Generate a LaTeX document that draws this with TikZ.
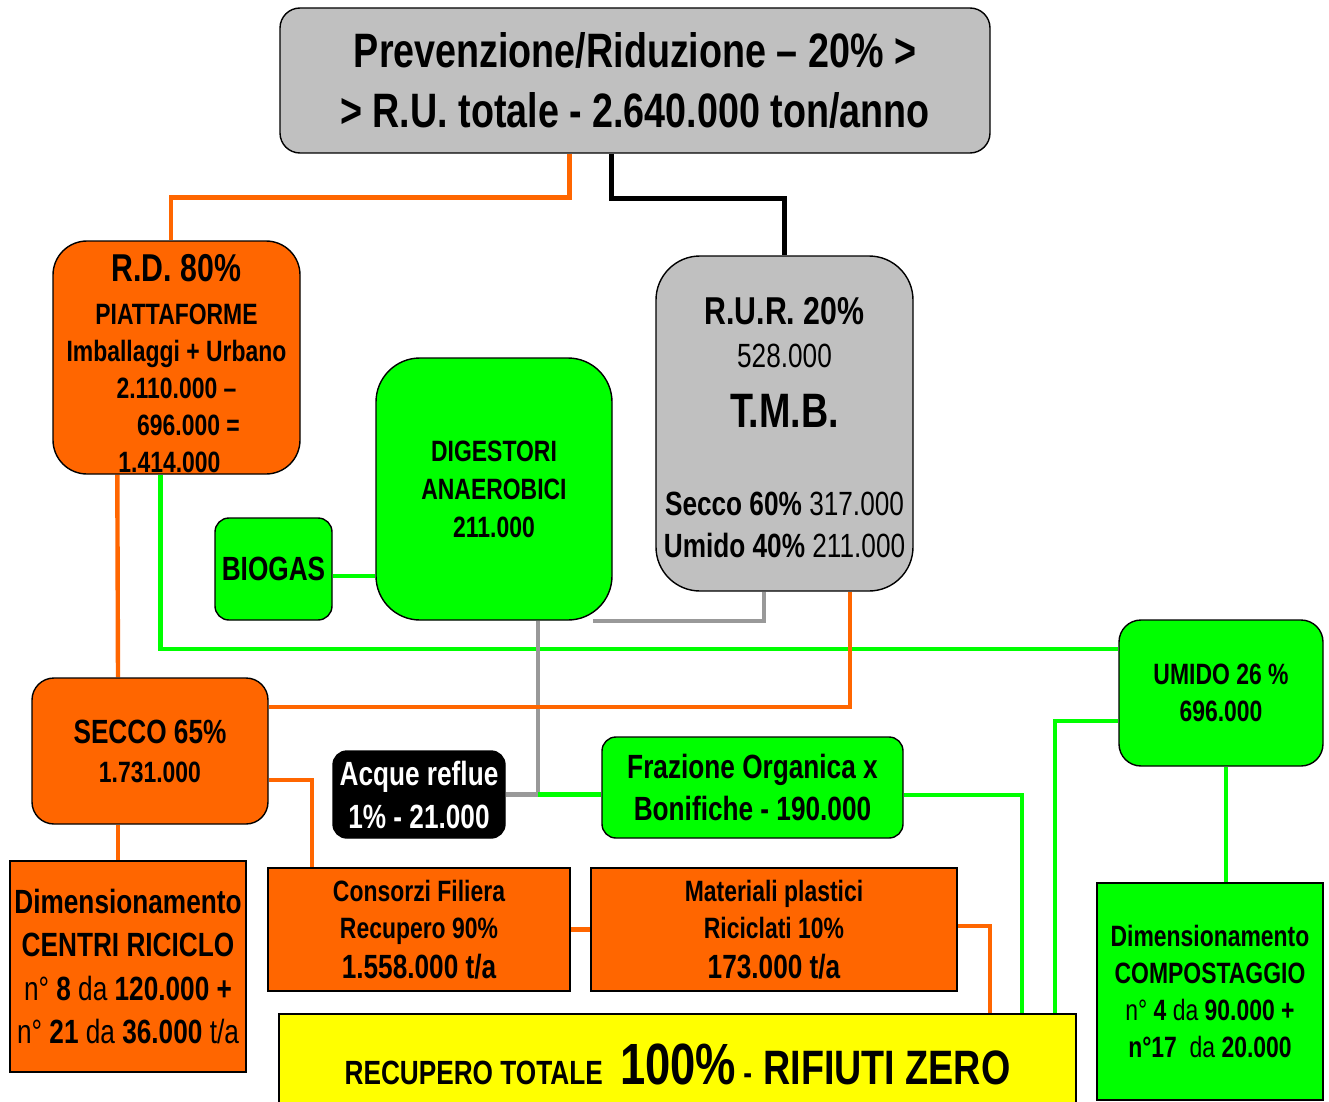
\documentclass[tikz,border=0pt]{standalone}
\usepackage{fontspec}
\setmainfont{Liberation Sans}[FakeStretch=0.78]
\definecolor{cor}{HTML}{FF6600}
\definecolor{cgr}{HTML}{00FF00}
\definecolor{cgy}{HTML}{C0C0C0}
\definecolor{cln}{HTML}{999999}
\definecolor{cye}{HTML}{FFFF00}
\pgfdeclarelayer{bg}
\pgfsetlayers{bg,main}
\newcommand\fsc{1.05}
\newcommand\fs[2]{\bfseries\fontsize{\fpeval{#1*\fsc}}{#2}\selectfont}
\newcommand\fz[2]{\fontsize{\fpeval{#1*\fsc}}{#2}\selectfont}
\newcommand\rg{\mdseries}
\tikzset{
  box/.style={draw=black, line width=0.7pt, align=center, inner sep=0pt},
  wire/.style={line width=2.2pt},
  ow/.style={wire, draw=cor},
  gw/.style={wire, draw=cgr},
  kw/.style={wire, draw=black},
  yw/.style={wire, draw=cln},
}
\begin{document}
\begin{tikzpicture}[x=0.5pt,y=-0.5pt]
\useasboundingbox (0,0) rectangle (1329,1102);
\begin{pgfonlayer}{bg}
\fill[white] (0,0) rectangle (1329,1102);
\end{pgfonlayer}

\node[box, fill=cgy, rounded corners=10pt, minimum width=355pt, minimum height=72.5pt, font=\fs{23}{30}] (top) at (635,80.5)
  {Prevenzione/Riduzione – 20\% >\\> R.U. totale - 2.640.000 ton/anno};

\node[box, fill=cor, rounded corners=17pt, minimum width=123.5pt, minimum height=116.5pt, font=\fs{14}{18.5}] (rd) at (176.5,357.5)
  {\rule{0pt}{20pt}{\fz{18.5}{18.5}R.D. 80\%}\\[3pt] PIATTAFORME\\ Imballaggi + Urbano\\ 2.110.000 –\\ \hspace*{12pt}696.000 =\\ 1.414.000\hspace*{7pt}};

\node[box, fill=cgy, rounded corners=22pt, minimum width=128.5pt, minimum height=167.5pt, font=\fs{16}{21}] (rur) at (784.5,423.5)
  {\rule{0pt}{17.5pt}{\fz{18.5}{21}R.U.R. 20\%}\\[0.5pt] {\rg 528.000}\\[9pt] {\fz{23}{21}T.M.B.}\\[23pt] Secco 60\% {\rg 317.000}\\ Umido 40\% {\rg 211.000}};

\node[box, fill=cgr, rounded corners=22pt, minimum width=118pt, minimum height=131pt, font=\fs{14}{19}] (dig) at (494,489)
  {DIGESTORI\\ANAEROBICI\\211.000};

\node[box, fill=cgr, rounded corners=7pt, minimum width=58.5pt, minimum height=51pt, font=\fs{16}{19}] (biogas) at (273.5,569)
  {BIOGAS};

\node[box, fill=cor, rounded corners=11pt, minimum width=118pt, minimum height=73pt, font=\fs{16}{19.5}] (secco) at (150,751)
  {SECCO 65\%\\{\fz{14}{19.5}1.731.000}};

\node[box, fill=black, text=white, rounded corners=7pt, minimum width=86pt, minimum height=43.5pt, font=\fs{16}{21.5}] (acque) at (419,794.5)
  {Acque reflue\\1\% - 21.000};

\node[box, fill=cgr, rounded corners=7pt, minimum width=150.5pt, minimum height=50.5pt, font=\fs{16}{21}] (fraz) at (752.5,787.5)
  {Frazione Organica x\\Bonifiche - 190.000};

\node[box, fill=cgr, rounded corners=11pt, minimum width=102pt, minimum height=73pt, font=\fs{14}{18.5}] (umido) at (1221,693)
  {UMIDO 26 \%\\696.000};

\node[box, fill=cor, minimum width=118pt, minimum height=105.5pt, font=\fs{16}{21.75}] (centri) at (128,966.5)
  {Dimensionamento\\CENTRI RICICLO\\{\rg n°} 8 {\rg da} 120.000 +\\{\rg n°} 21 {\rg da} 36.000 {\rg t/a}};

\node[box, fill=cor, minimum width=151pt, minimum height=61.5pt, font=\fs{14}{18.5}] (cons) at (419,929.5)
  {Consorzi Filiera\\Recupero 90\%\\[1.5pt]{\fz{16}{18.5}1.558.000 t/a}};

\node[box, fill=cor, minimum width=183pt, minimum height=61.5pt, font=\fs{14}{18.5}] (mat) at (774,929.5)
  {Materiali plastici\\Riciclati 10\%\\[1.5pt]{\fz{16}{18.5}173.000 t/a}};

\node[box, fill=cye, minimum width=398.5pt, minimum height=50.5pt, font=\fs{16}{20}] (recup) at (677.5,1064.5)
  {RECUPERO TOTALE\hspace{5pt} {\fz{27.7}{20}100\%} -\hspace{2pt} {\fz{23}{20}RIFIUTI ZERO}};

\node[box, fill=cgr, minimum width=113pt, minimum height=108.5pt, font=\fs{14}{18.5}] (compost) at (1210,991.5)
  {Dimensionamento\\COMPOSTAGGIO\\{\rg n°} 4 {\rg da} 90.000 +\\n°17\ \ {\rg da} 20.000};

\begin{pgfonlayer}{bg}
\draw[ow] ([xshift=145pt]top.south west) -- ++(0,44) -| ([xshift=-2.75pt]rd.north);
\draw[kw] ([xshift=166pt]top.south west) -- ++(0,45) -| (rur.north);
\draw[ow] ([xshift=32.5pt]rd.south west) -- ([xshift=-16pt]secco.north);
\draw[gw] ([xshift=54pt]rd.south west) |- ([yshift=22pt]umido.west);
\draw[gw] ([yshift=-3.5pt]biogas.east) -- ([yshift=-43.5pt]dig.west);
\draw[yw] ([xshift=22pt]dig.south) |- coordinate[pos=0.5] (j1) (acque.east);
\draw[gw] (j1) -- ([yshift=-3.5pt]fraz.west);
\draw[yw] ([xshift=-10.25pt]rur.south) |- ([xshift=-10pt]dig.south east);
\draw[ow] ([xshift=32.75pt]rur.south) |- ([yshift=22pt]secco.east);
\draw[ow] ([yshift=-14.5pt]secco.east) -| ([xshift=-53.5pt]cons.north);
\draw[ow] ([xshift=-16pt]secco.south) -- ([xshift=-5pt]centri.north);
\draw[ow] (cons.east) -- (mat.west);
\draw[ow] ([yshift=1.75pt]mat.east) -| ([xshift=156.25pt]recup.north);
\draw[gw] ([yshift=-3.75pt]fraz.east) -| ([xshift=172.25pt]recup.north);
\draw[gw] ([yshift=-14pt]umido.west) -| ([xshift=188.75pt]recup.north);
\draw[gw] ([xshift=2.5pt]umido.south) -- ([xshift=8pt]compost.north);
\end{pgfonlayer}
\end{tikzpicture}
\end{document}
